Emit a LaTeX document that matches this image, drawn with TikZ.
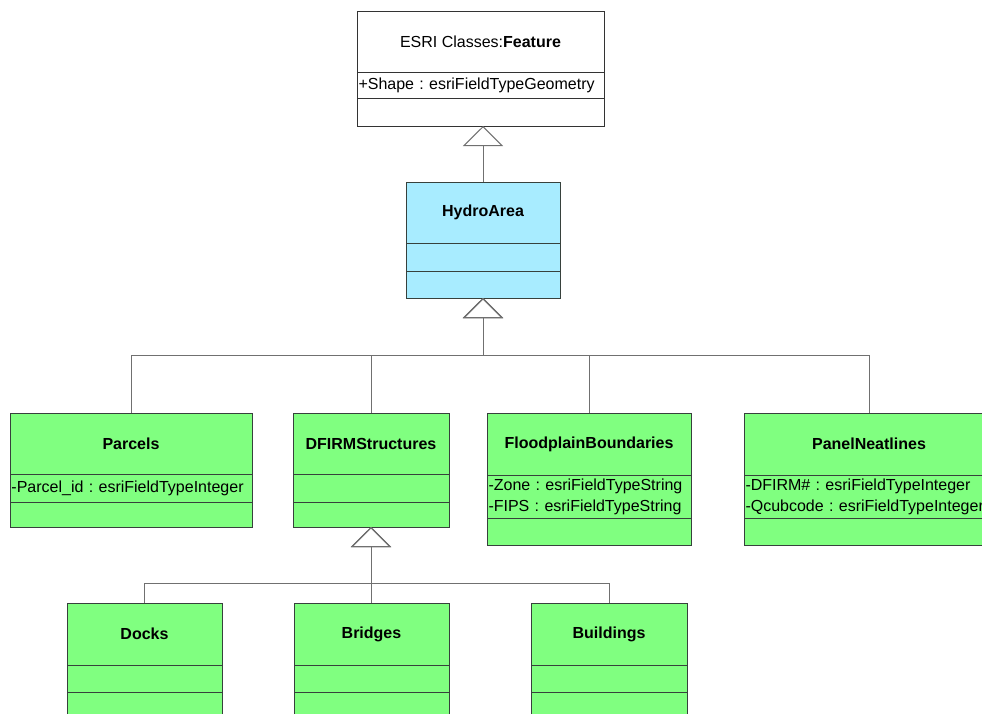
\documentclass[tikz,border=0pt]{standalone}
\usepackage{fontspec}
\setmainfont{Liberation Sans}
\usetikzlibrary{positioning,arrows.meta}
\definecolor{hydrocyan}{RGB}{168,236,255}
\definecolor{clsgreen}{RGB}{128,255,128}
\definecolor{boxline}{RGB}{55,65,60}
\definecolor{linkgray}{RGB}{112,112,112}
\frenchspacing

\tikzset{
  cls/.style={draw=boxline, line width=0.9pt, inner sep=0pt, outer sep=0pt,
    font=\fontsize{16}{21}\selectfont},
  clsname/.style={cls, font=\fontsize{16}{21}\selectfont\bfseries},
  clsatt/.style={cls, align=left, inner xsep=1.5pt},
  gen/.style={draw=linkgray, line width=1pt,
    -{Triangle[open,length=20pt,width=40pt]}}
}

\begin{document}
\begin{tikzpicture}[x=1pt,y=-1pt]
\useasboundingbox[fill=white] (0,0) rectangle (982,713);
\clip (0,0) rectangle (982,713);
% feature
\node[clsname, fill=white, draw=black!80, anchor=north west, minimum width=247pt, minimum height=61pt] (feature) at (357,11) {\mdseries ESRI Classes:\textbf{Feature}};
\node[clsatt, fill=white, draw=black!80, below=0pt of feature, minimum height=26pt, text width=244pt] (featureAtt) {+Shape : esriFieldTypeGeometry};
\node[cls, fill=white, draw=black!80, below=0pt of featureAtt, minimum width=247pt, minimum height=28pt] (featureOp) {};
% hydro area
\node[clsname, fill=hydrocyan, anchor=north west, minimum width=154pt, minimum height=61pt] (hydro) at (406,182) {HydroArea};
\node[cls, fill=hydrocyan, below=0pt of hydro, minimum width=154pt, minimum height=28pt] (hydroAtt) {};
\node[cls, fill=hydrocyan, below=0pt of hydroAtt, minimum width=154pt, minimum height=27pt] (hydroOp) {};
% level 2
\node[clsname, fill=clsgreen, anchor=north west, minimum width=242pt, minimum height=61pt] (parcels) at (10,413) {Parcels};
\node[clsatt, fill=clsgreen, below=0pt of parcels, minimum height=28pt, text width=239pt] (parcelsAtt) {-Parcel\_id : esriFieldTypeInteger};
\node[cls, fill=clsgreen, below=0pt of parcelsAtt, minimum width=242pt, minimum height=25pt] (parcelsOp) {};

\node[clsname, fill=clsgreen, anchor=north west, minimum width=156pt, minimum height=61pt] (dfirm) at (293,413) {DFIRMStructures};
\node[cls, fill=clsgreen, below=0pt of dfirm, minimum width=156pt, minimum height=28pt] (dfirmAtt) {};
\node[cls, fill=clsgreen, below=0pt of dfirmAtt, minimum width=156pt, minimum height=25pt] (dfirmOp) {};

\node[clsname, fill=clsgreen, anchor=north west, minimum width=204pt, minimum height=62pt] (flood) at (487,413) {FloodplainBoundaries};
\node[clsatt, fill=clsgreen, below=0pt of flood, minimum height=43pt, text width=201pt] (floodAtt) {-Zone : esriFieldTypeString\\-FIPS : esriFieldTypeString};
\node[cls, fill=clsgreen, below=0pt of floodAtt, minimum width=204pt, minimum height=27pt] (floodOp) {};

\node[clsname, fill=clsgreen, anchor=north west, minimum width=250pt, minimum height=62pt] (panel) at (744,413) {PanelNeatlines};
\node[clsatt, fill=clsgreen, below=0pt of panel, minimum height=43pt, text width=247pt] (panelAtt) {-DFIRM\# : esriFieldTypeInteger\\-Qcubcode : esriFieldTypeInteger};
\node[cls, fill=clsgreen, below=0pt of panelAtt, minimum width=250pt, minimum height=27pt] (panelOp) {};
% level 3
\node[clsname, fill=clsgreen, anchor=north west, minimum width=155pt, minimum height=62pt] (docks) at (67,603) {Docks};
\node[cls, fill=clsgreen, below=0pt of docks, minimum width=155pt, minimum height=27pt] (docksAtt) {};
\node[cls, fill=clsgreen, below=0pt of docksAtt, minimum width=155pt, minimum height=38pt] (docksOp) {};

\node[clsname, fill=clsgreen, anchor=north west, minimum width=155pt, minimum height=62pt] (bridges) at (294,603) {Bridges};
\node[cls, fill=clsgreen, below=0pt of bridges, minimum width=155pt, minimum height=27pt] (bridgesAtt) {};
\node[cls, fill=clsgreen, below=0pt of bridgesAtt, minimum width=155pt, minimum height=38pt] (bridgesOp) {};

\node[clsname, fill=clsgreen, anchor=north west, minimum width=156pt, minimum height=62pt] (buildings) at (531,603) {Buildings};
\node[cls, fill=clsgreen, below=0pt of buildings, minimum width=156pt, minimum height=27pt] (buildingsAtt) {};
\node[cls, fill=clsgreen, below=0pt of buildingsAtt, minimum width=156pt, minimum height=38pt] (buildingsOp) {};

% generalisations
\draw[gen] (hydro.north) -- (hydro.north |- featureOp.south);
\coordinate[below=57pt of hydroOp.south] (hbar);
\draw[gen] (parcels.north) |- (hbar) -- (hydroOp.south);
\draw[gen] (dfirm.north) |- (hbar) -- (hydroOp.south);
\draw[gen] (flood.north) |- (hbar) -- (hydroOp.south);
\draw[gen] (panel.north) |- (hbar) -- (hydroOp.south);
\coordinate[below=56pt of dfirmOp.south] (dbar);
\draw[gen] (docks.north) |- (dbar) -- (dfirmOp.south);
\draw[gen] (bridges.north) |- (dbar) -- (dfirmOp.south);
\draw[gen] (buildings.north) |- (dbar) -- (dfirmOp.south);
\end{tikzpicture}
\end{document}
